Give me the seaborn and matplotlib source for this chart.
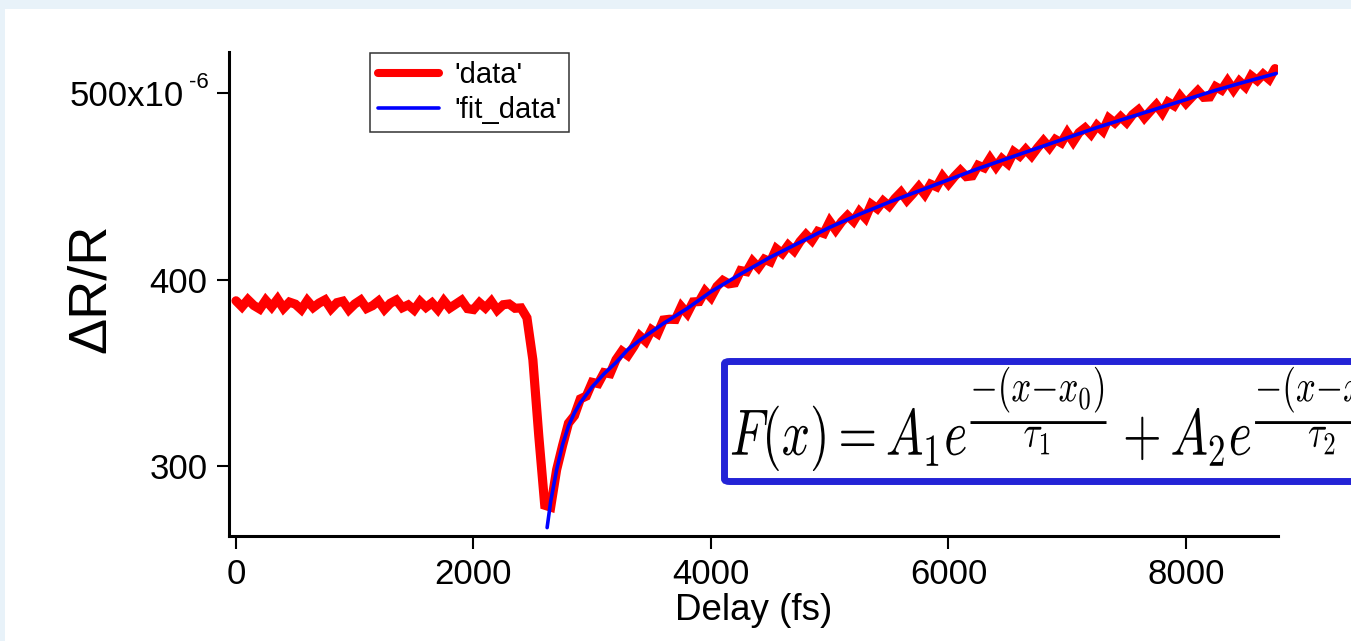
import numpy as np
import pandas as pd
import matplotlib
matplotlib.use("Agg")
import matplotlib.pyplot as plt
import seaborn as sns
from matplotlib.patches import Rectangle, FancyBboxPatch
from matplotlib.text import Text
from matplotlib.transforms import blended_transform_factory, Affine2D, Bbox
from matplotlib.patheffects import AbstractPathEffect

# ---------------- data (values in units of 1e-6) ----------------
delay = np.arange(0, 8751, 50)  # sampling grid of the measurement (fs)

data_pre = [388.6, 385.4, 389.2, 386.1, 384.2, 388.9, 385.3, 389.5, 384.6, 387.9,
            386.8, 383.9, 388.7, 385.0, 387.4, 389.1, 384.3, 387.6, 388.4, 383.8,
            386.9, 389.0, 384.5, 386.0, 388.5, 384.0, 387.3, 389.0, 384.9, 386.4,
            383.7, 388.2, 385.1, 387.5, 383.9, 388.6, 384.7, 386.8, 388.9, 384.4,
            383.9, 387.6, 384.8, 388.3, 383.6, 386.5, 386.9, 384.6]
data_dip = [384.8, 379.5, 357.0, 316.0, 279.0, 278.0]
data_rise = [298.0, 311.0, 323.0, 327.0, 336.0, 337.5,
             344.9, 344.2, 350.1, 349.5, 357.0, 361.6, 359.3, 364.1, 369.8, 366.9,
             373.1, 371.0, 378.3, 378.7, 378.6, 385.5, 381.8, 388.0, 388.2, 393.8,
             390.4, 396.3, 399.5, 397.7, 398.2, 404.8, 404.2, 409.8, 406.4, 410.9,
             409.5, 416.5, 414.0, 418.4, 415.4, 420.4, 424.1, 420.9, 425.8, 424.7,
             431.1, 426.6, 431.0, 434.3, 431.2, 436.4, 433.0, 440.3, 438.0, 442.1,
             439.4, 443.5, 446.8, 442.5, 446.0, 449.8, 445.7, 451.1, 449.7, 455.3,
             451.3, 455.2, 458.5, 455.2, 455.6, 461.2, 459.9, 465.0, 460.4, 464.8,
             462.1, 468.5, 466.2, 469.8, 466.3, 470.6, 474.4, 470.7, 475.1, 473.3,
             478.7, 473.9, 478.8, 481.3, 477.9, 482.6, 479.6, 486.5, 484.0, 487.3,
             484.2, 488.4, 491.0, 486.7, 490.3, 493.7, 489.4, 495.1, 493.2, 498.4,
             494.5, 497.9, 501.2, 497.7, 497.9, 503.4, 501.6, 506.4, 501.7, 506.3,
             503.3, 509.2, 506.7, 510.1, 507.4, 513.1]

fit_delay = [2620, 2650, 2700, 2750, 2800, 2850, 2900, 3000, 3100, 3200, 3300, 3400,
             3500, 3600, 3700, 3800, 3900, 4000, 4250, 4500, 4750, 5000, 5250, 5500,
             5750, 6000, 6250, 6500, 6750, 7000, 7250, 7500, 7750, 8000, 8250, 8500, 8760]
fit_value = [267, 281, 298, 311.5, 321.5, 328.5, 334, 342.5, 349.5, 355.5, 362.5, 367.5,
             372, 376.5, 380.5, 384.5, 389, 393.5, 403, 412, 420, 428, 435, 441.5,
             447.5, 453.5, 459.5, 465, 470.5, 476, 481.5, 486.5, 491.5, 496.5, 501.5, 506, 510.5]

x_ticks = [0, 2000, 4000, 6000, 8000]
y_ticks = [300, 400, 500]
y_ticklabels = ["300", "400", "500x10"]
y_exponent = "-6"
legend_labels = ["'data'", "'fit_data'"]
formula = (r"$F(x) = A_1 e^{\dfrac{-(x{-}x_0)}{\tau_1}}"
           r" + A_2 e^{\dfrac{-(x{-}x_0)}{\tau_2}}$")


class SquashX(AbstractPathEffect):
    """Draw text glyphs compressed horizontally around display x0."""
    def __init__(self, x0, sx):
        super().__init__()
        self.x0 = x0
        self.sx = sx

    def draw_path(self, renderer, gc, tpath, affine, rgbFace=None):
        aff = affine + Affine2D().translate(-self.x0, 0).scale(self.sx, 1).translate(self.x0, 0)
        renderer.draw_path(gc, tpath, aff, rgbFace)


class SquashText(Text):
    """Left-anchored text drawn horizontally compressed; extent reports the drawn size."""
    def __init__(self, *args, sx=1.0, x0_px=0.0, **kwargs):
        super().__init__(*args, **kwargs)
        self._sx = sx
        self.set_path_effects([SquashX(x0_px, sx)])

    def get_window_extent(self, renderer=None, dpi=None):
        bb = super().get_window_extent(renderer, dpi)
        return Bbox.from_extents(bb.x0, bb.y0, bb.x0 + bb.width * self._sx, bb.y1)


# ---------------- figure ----------------
sns.set_style("ticks")
plt.rcParams["font.family"] = ["Liberation Sans", "DejaVu Sans"]
plt.rcParams["axes.labelcolor"] = "black"
plt.rcParams["text.color"] = "black"

W, H = 1351, 641
fig = plt.figure(figsize=(W / 100, H / 100), dpi=100, facecolor="#e8f2f9")
fig.add_artist(Rectangle((5 / W, 0), 1, (H - 9) / H, transform=fig.transFigure,
                         facecolor="white", edgecolor="none", zorder=-10))

ax = fig.add_axes([229 / W, 1 - 536 / H, (1278 - 229) / W, (536 - 52) / H])
ax.set_facecolor("white")

df = pd.DataFrame({"delay": delay,
                   "value": np.array(data_pre + data_dip + data_rise)})
fit_df = pd.DataFrame({"delay": fit_delay, "value": fit_value})

sns.lineplot(data=df, x="delay", y="value", ax=ax, color="#ff0000", lw=6.6,
             solid_joinstyle="miter", estimator=None, sort=False, label=legend_labels[0])
sns.lineplot(data=fit_df, x="delay", y="value", ax=ax, color="#0000ff", lw=2.6,
             estimator=None, sort=False, label=legend_labels[1])

ax.set_xlim(-59, 8775)
ax.set_ylim(262.5, 522)
ax.set_xticks(x_ticks)
ax.set_yticks(y_ticks)
ax.set_yticklabels(y_ticklabels)

sns.despine(ax=ax)
for s in ["left", "bottom"]:
    ax.spines[s].set_linewidth(2.2)
    ax.spines[s].set_color("black")
ax.tick_params(direction="out", length=9, width=1.5, labelsize=25, pad=6.5,
               colors="black")
ax.yaxis.get_major_ticks()[2].set_pad(6.5 + 24 / 1.389)

trans = blended_transform_factory(ax.transAxes, ax.transData)
ax.text(-0.0381, 502.7, y_exponent, transform=trans, fontsize=16,
        ha="left", va="baseline")

ax.set_xlabel("Delay (fs)", fontsize=26.5, labelpad=1.5, color="black")
ax.set_ylabel("\u0394R/R", fontsize=39, color="black")
ax.yaxis.set_label_coords(-0.108, 0.512)

leg = ax.legend(loc="upper left", bbox_to_anchor=(370 / W, 1 - 53 / H),
                bbox_transform=fig.transFigure, borderaxespad=0, fontsize=21,
                frameon=True, fancybox=False, framealpha=1, edgecolor="#333333",
                borderpad=0.28, labelspacing=0.24, handlelength=2.1, handletextpad=0.5)
leg.get_frame().set_linewidth(1.1)
leg.get_lines()[0].set_linewidth(5.8)

# formula box
fig.add_artist(FancyBboxPatch((724.5 / W, 1 - 481.5 / H), 700 / W, 120 / H,
                              boxstyle="round,pad=0,rounding_size=0.004",
                              transform=fig.transFigure, facecolor="white",
                              edgecolor="#2323d6", lw=5, zorder=4))
fig.add_artist(SquashText(730 / W, 1 - 455 / H, formula, fontsize=47,
                          math_fontfamily="cm", ha="left", va="baseline", zorder=5,
                          transform=fig.transFigure, sx=0.766, x0_px=730))

fig.savefig("out.png", dpi=100, facecolor=fig.get_facecolor())
